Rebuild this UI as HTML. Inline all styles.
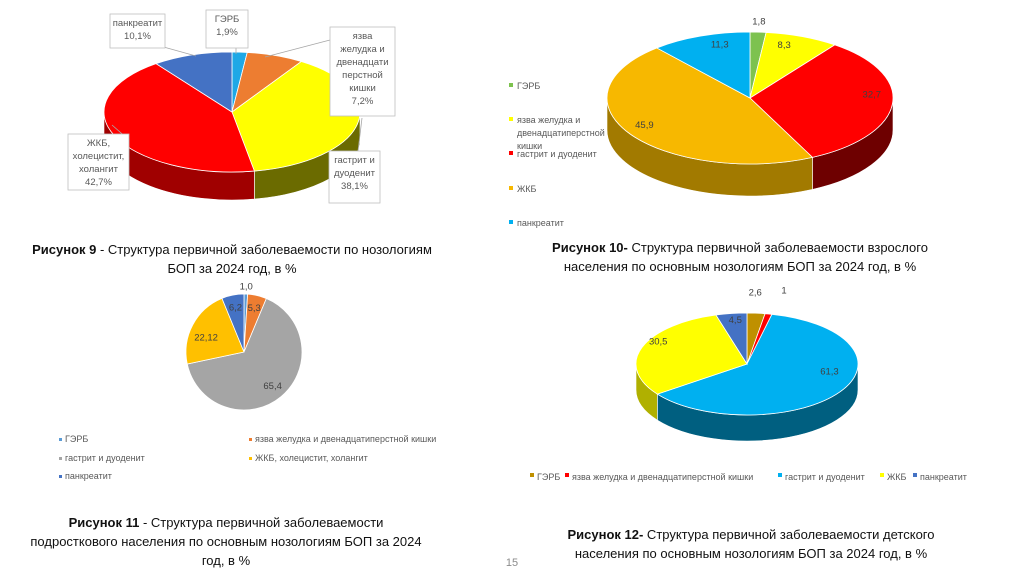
<!DOCTYPE html>
<html><head><meta charset="utf-8"><style>
body{margin:0;width:1024px;height:574px;background:#fff;overflow:hidden;font-family:"Liberation Sans","Noto Sans CJK SC",sans-serif}
svg{position:absolute;left:0;top:0}
.cap{font-size:13px;fill:#111}
.lg{font-size:9px;fill:#595959}
.lbl{font-size:9.5px;fill:#404040}
.box{font-size:9.5px;fill:#595959}
</style></head><body>
<svg id="s" width="1024" height="574" xmlns="http://www.w3.org/2000/svg">
<g id="g9"></g>
<g id="g10"></g>
<g id="g11"></g>
<g id="g12"></g>
<g>
<text class="cap" x="232" y="254" text-anchor="middle"><tspan font-weight="bold">Рисунок 9</tspan> - Структура первичной заболеваемости по нозологиям</text>
<text class="cap" x="232" y="273" text-anchor="middle">БОП за 2024 год, в %</text>
<text class="cap" x="740" y="252" text-anchor="middle"><tspan font-weight="bold">Рисунок 10-</tspan> Структура первичной заболеваемости взрослого</text>
<text class="cap" x="740" y="271" text-anchor="middle">населения по основным нозологиям БОП за 2024 год, в %</text>
<text class="cap" x="226" y="527" text-anchor="middle"><tspan font-weight="bold">Рисунок 11</tspan> - Структура первичной заболеваемости</text>
<text class="cap" x="226" y="546" text-anchor="middle">подросткового населения по основным нозологиям БОП за 2024</text>
<text class="cap" x="226" y="565" text-anchor="middle">год, в %</text>
<text class="cap" x="751" y="539" text-anchor="middle"><tspan font-weight="bold">Рисунок 12-</tspan> Структура первичной заболеваемости детского</text>
<text class="cap" x="751" y="558" text-anchor="middle">населения по основным нозологиям БОП за 2024 год, в %</text>
<text x="512" y="566" font-size="11" fill="#8c8c8c" text-anchor="middle">15</text>
</g>
</svg>
<script>
// Figure 9
const cat9=["ГЭРБ","язва желудка и двенадцатиперстной кишки","гастрит и дуоденит","ЖКБ, холецистит, холангит","панкреатит"];
const val9=[1.9,7.2,38.1,42.7,10.1];
const lab9=["1,9%","7,2%","38,1%","42,7%","10,1%"];
// Figure 10
const cat10=["ГЭРБ","язва желудка и двенадцатиперстной кишки","гастрит и дуоденит","ЖКБ","панкреатит"];
const val10=[1.8,8.3,32.7,45.9,11.3];
const lab10=["1,8","8,3","32,7","45,9","11,3"];
// Figure 11
const cat11=["ГЭРБ","язва желудка и двенадцатиперстной кишки","гастрит и дуоденит","ЖКБ, холецистит, холангит","панкреатит"];
const val11=[1.0,5.3,65.4,22.12,6.2];
const lab11=["1,0","5,3","65,4","22,12","6,2"];
// Figure 12
const cat12=["ГЭРБ","язва желудка и двенадцатиперстной кишки","гастрит и дуоденит","ЖКБ","панкреатит"];
const val12=[2.6,1,61.3,30.5,4.5];
const lab12=["2,6","1","61,3","30,5","4,5"];

const NS="http://www.w3.org/2000/svg";
function mk(p,t,a){const e=document.createElementNS(NS,t);for(const k in a)e.setAttribute(k,a[k]);p.appendChild(e);return e;}
function pt(c,a,dy){return [c.cx+c.rx*Math.sin(a),c.cy-c.ry*Math.cos(a)+(dy||0)];}
function angles(vals){const s=vals.reduce((a,b)=>a+b,0);let acc=0;return vals.map(v=>{const a0=acc/s*2*Math.PI;acc+=v;return [a0,acc/s*2*Math.PI];});}
function pie(g,c,vals,tops,sides,labs,labCol){
  const an=angles(vals);
  if(c.depth){
    an.forEach((r,i)=>{
      const a0=Math.max(r[0],Math.PI/2),a1=Math.min(r[1],1.5*Math.PI);
      if(a1<=a0)return;
      const p0=pt(c,a0),p1=pt(c,a1),q1=pt(c,a1,c.depth),q0=pt(c,a0,c.depth);
      const e=mk(g,'path',{d:`M${p0}A${c.rx} ${c.ry} 0 0 1 ${p1}L${q1}A${c.rx} ${c.ry} 0 0 0 ${q0}Z`,fill:sides[i],stroke:'#fff','stroke-width':0.6});
      
      
    });
  }
  an.forEach((r,i)=>{
    const p0=pt(c,r[0]),p1=pt(c,r[1]),lg=(r[1]-r[0])>Math.PI?1:0;
    const e=mk(g,'path',{d:`M${c.cx},${c.cy}L${p0}A${c.rx} ${c.ry} 0 ${lg} 1 ${p1}Z`,fill:tops[i],stroke:'#fff','stroke-width':0.8});
    
    
  });
  if(labs){an.forEach((r,i)=>{
    const m=(r[0]+r[1])/2,f=c.lf[i];
    const x=c.cx+c.rx*f[0]*Math.sin(m)+(f[1]||0),y=c.cy-c.ry*f[0]*Math.cos(m)+(f[2]||0);
    const t=mk(g,'text',{x:x,y:y+3,'text-anchor':'middle',class:'lbl',fill:labCol});t.textContent=labs[i];
    
    
  });}
}
// Fig 9
const g9=document.getElementById('g9');
pie(g9,{cx:232,cy:112,rx:128,ry:60,depth:28},val9,['#1ea8e6','#ed7d31','#ffff00','#ff0000','#4472c4'],['#0f6e99','#9c4f1c','#6b6b00','#a00000','#2b4c85'],null);
function box(g,x,y,w,h,lines,name,lx,ly,ex,ey){
  mk(g,'line',{x1:lx,y1:ly,x2:ex,y2:ey,stroke:'#a6a6a6','stroke-width':0.8});
  const r=mk(g,'rect',{x:x,y:y,width:w,height:h,fill:'#fff',stroke:'#bfbfbf','stroke-width':0.8});
  
  
  lines.forEach((l,i)=>{const t=mk(g,'text',{x:x+w/2,y:y+12+i*13,'text-anchor':'middle',class:'box'});t.textContent=l;});
}
box(g9,206,10,42,38,['ГЭРБ',lab9[0]],'label-box-gerb',236,46,236,54);
box(g9,330,27,65,89,['язва','желудка и','двенадцати','перстной','кишки',lab9[1]],'label-box-yazva',330,40,265,57);
box(g9,110,14,55,34,['панкреатит',lab9[4]],'label-box-pankreatit',160,46,196,56);
box(g9,68,134,61,56,['ЖКБ,','холецистит,','холангит',lab9[3]],'label-box-zhkb',129,140,112,125);
box(g9,329,151,51,52,['гастрит и','дуоденит',lab9[2]],'label-box-gastrit',358,151,362,118);
// Fig 10
const g10=document.getElementById('g10');
const c10={cx:750,cy:98,rx:143,ry:66,depth:32,lf:[[1.1,0,-4],[0.75,-5,-7],[0.75,15,-8],[0.8,-10,-2],[0.75,7,-7]]};
pie(g10,c10,val10,['#7dc24f','#ffff00','#ff0000','#f7b800','#00b0f0'],['#4a7a2a','#8a8a00','#6e0000','#a27a00','#00729c'],lab10,'#404040');
const leg10=[[89,[cat10[0]]],[123,['язва желудка и','двенадцатиперстной','кишки']],[157,[cat10[2]]],[192,[cat10[3]]],[226,[cat10[4]]]];
const lc10=['#7dc24f','#ffff00','#ff0000','#f7b800','#00b0f0'];
leg10.forEach((L,i)=>{
  const r=mk(g10,'rect',{x:509,y:L[0]-6,width:4,height:4,fill:lc10[i]});
  
  
  L[1].forEach((s,j)=>{const t=mk(g10,'text',{x:517,y:L[0]+j*13,class:'lg','font-size':10});t.textContent=s;
    
    });
});
// Fig 11
const g11=document.getElementById('g11');
const c11={cx:244,cy:352,rx:58,ry:58,depth:0,lf:[[1.2,0,4],[0.85,-1,4],[0.72,2,2],[0.72,-1,5],[0.85,1,4]]};
pie(g11,c11,val11,['#5b9bd5','#ed7d31','#a5a5a5','#ffc000','#4472c4'],null,lab11,'#404040');
const leg11=[[59,442],[249,442],[59,461],[249,461],[59,479]];
const lc11=['#5b9bd5','#ed7d31','#a5a5a5','#ffc000','#4472c4'];
leg11.forEach((p,i)=>{
  const r=mk(g11,'rect',{x:p[0],y:p[1]-4,width:3,height:3,fill:lc11[i]});
  
  
  const t=mk(g11,'text',{x:p[0]+6,y:p[1],class:'lg','font-size':8.5});t.textContent=cat11[i];
  
  
});
// Fig 12
const g12=document.getElementById('g12');
const c12={cx:747,cy:364,rx:111,ry:51,depth:26,lf:[[1.35,-4,-3],[1.35,8,-6],[0.62,25,-10],[0.75,-10,-10],[0.75,0,-6]]};
pie(g12,c12,val12,['#bf9000','#ff0000','#00b0f0','#ffff00','#4472c4'],['#7a5c00','#900000','#005f80','#b0b000','#2b4c85'],lab12,'#404040');
const leg12=[[530,cat12[0],'#bf9000'],[565,cat12[1],'#ff0000'],[778,cat12[2],'#00b0f0'],[880,cat12[3],'#ffff00'],[913,cat12[4],'#4472c4']];
leg12.forEach((L,i)=>{
  const r=mk(g12,'rect',{x:L[0],y:473,width:4,height:4,fill:L[2]});
  
  
  const t=mk(g12,'text',{x:L[0]+7,y:480,class:'lg','font-size':10});t.textContent=L[1];
  
  
});
</script>
</body></html>
